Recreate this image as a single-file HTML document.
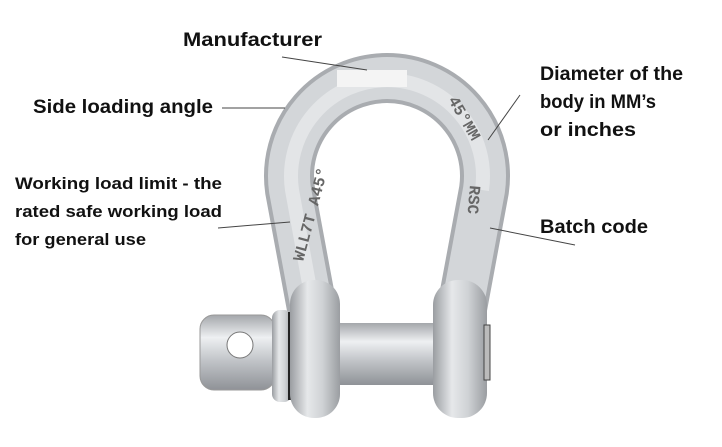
<!DOCTYPE html>
<html><head><style>
body{margin:0;background:#fff;width:722px;height:442px;overflow:hidden;font-family:"Liberation Sans",sans-serif}
</style></head><body>
<svg width="722" height="442" xmlns="http://www.w3.org/2000/svg">
<defs>
<linearGradient id="g" x1="0" x2="1"><stop offset="0" stop-color="#9a9da1"/><stop offset=".35" stop-color="#e6e8ea"/><stop offset=".65" stop-color="#cfd2d5"/><stop offset="1" stop-color="#9a9da1"/></linearGradient>
<linearGradient id="p" x1="0" y1="0" x2="0" y2="1"><stop offset="0" stop-color="#a4a7ab"/><stop offset=".3" stop-color="#eef0f2"/><stop offset=".6" stop-color="#c2c5c9"/><stop offset="1" stop-color="#8f9297"/></linearGradient>
</defs>
<path d="M316 330 L290 190 A98 98 0 1 1 484 190 L458 330" fill="none" stroke="#a9acb0" stroke-width="50" stroke-linecap="round"/>
<path d="M316 330 L290 190 A98 98 0 1 1 484 190 L458 330" fill="none" stroke="#d3d6d9" stroke-width="42" stroke-linecap="round"/>
<path d="M312 300 L292 190 A96 96 0 1 1 482 190" fill="none" stroke="#e3e5e7" stroke-width="14"/>
<rect x="200" y="315" width="75" height="75" rx="14" fill="url(#p)" stroke="#999" stroke-width="1"/>
<circle cx="240" cy="345" r="13" fill="#fff" stroke="#777"/>
<rect x="272" y="310" width="20" height="92" rx="8" fill="url(#g)"/>
<rect x="288" y="312" width="4" height="88" fill="#222"/>
<rect x="335" y="323" width="102" height="62" fill="url(#p)"/>
<rect x="290" y="280" width="50" height="138" rx="24" fill="url(#g)"/>
<rect x="433" y="280" width="54" height="138" rx="25" fill="url(#g)"/>
<rect x="484" y="325" width="6" height="55" fill="#bbb" stroke="#444" stroke-width="1"/>
<g font-family="Liberation Mono,monospace" font-weight="bold" fill="#666" font-size="16">
<text transform="translate(303,262) rotate(-75)">WLL7T A45°</text>
<text transform="translate(448,100) rotate(60)">45°MM</text>
<text transform="translate(470,185) rotate(95)">RSC</text>
</g>
<rect x="337" y="70" width="70" height="17" fill="#f4f4f4"/>
<g stroke="#444" stroke-width="1" fill="none">
<line x1="282" y1="57" x2="367" y2="70"/>
<line x1="222" y1="108" x2="285" y2="108"/>
<line x1="218" y1="228" x2="290" y2="222"/>
<line x1="520" y1="95" x2="488" y2="140"/>
<line x1="490" y1="228" x2="575" y2="245"/>
</g>
<g font-weight="bold" fill="#111" font-size="19" lengthAdjust="spacingAndGlyphs">
<text x="183" y="46" textLength="139" lengthAdjust="spacingAndGlyphs">Manufacturer</text>
<text x="33" y="113" textLength="180" lengthAdjust="spacingAndGlyphs">Side loading angle</text>
<text x="540" y="80" textLength="143" lengthAdjust="spacingAndGlyphs">Diameter of the</text>
<text x="540" y="108" textLength="116" lengthAdjust="spacingAndGlyphs">body in MM’s</text>
<text x="540" y="136" textLength="96" lengthAdjust="spacingAndGlyphs">or inches</text>
<text x="540" y="233" textLength="108" lengthAdjust="spacingAndGlyphs">Batch code</text>
<text x="15" y="189" font-size="17" textLength="207" lengthAdjust="spacingAndGlyphs">Working load limit - the</text>
<text x="15" y="217" font-size="17" textLength="207" lengthAdjust="spacingAndGlyphs">rated safe working load</text>
<text x="15" y="245" font-size="17" textLength="131" lengthAdjust="spacingAndGlyphs">for general use</text>
</g>
</svg>
</body></html>
